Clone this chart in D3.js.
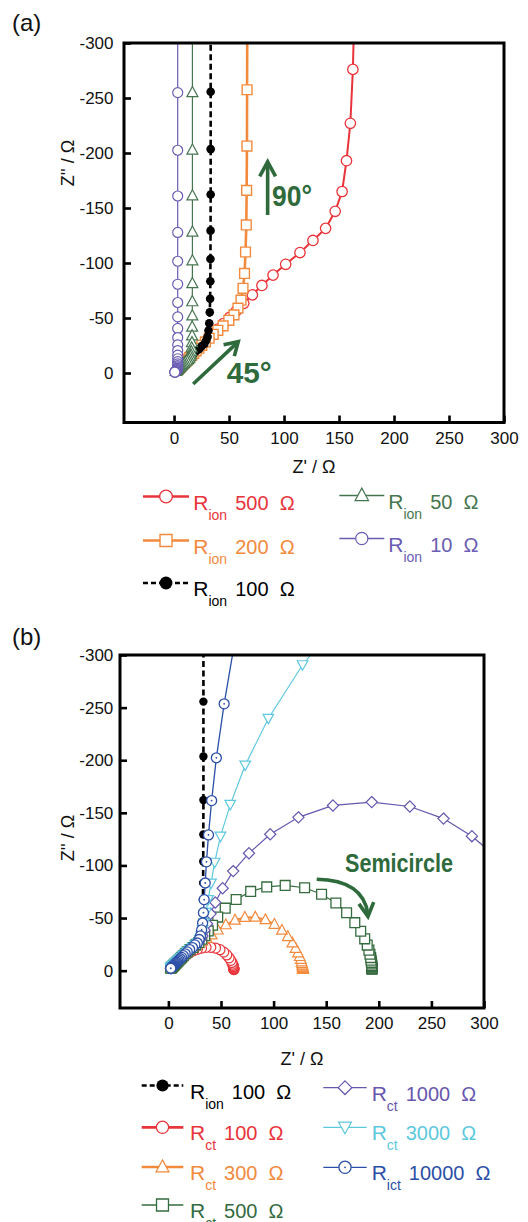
<!DOCTYPE html>
<html><head><meta charset="utf-8">
<script src="https://cdn.jsdelivr.net/npm/d3@7"></script>
<style>
body{margin:0;background:#fff}
svg{display:block}
text{font-family:"Liberation Sans",Arial,Helvetica,sans-serif}
</style>
</head><body>
<svg id="c" width="528" height="1222"></svg>
<script>
// ---------------- DATA (Z', Z'' in ohm) ----------------
const xTicks = [0, 50, 100, 150, 200, 250, 300];
const yTicks = [-300, -250, -200, -150, -100, -50, 0];

// Panel (a): transmission-line model, various R_ion (high frequency -> low frequency)
const aRion500 = [[5.0,-5.0],[5.7,-5.7],[6.3,-6.3],[7.1,-7.1],[8.0,-8.0],[8.9,-8.9],[10.1,-10.1],[11.3,-11.3],[12.6,-12.6],[14.2,-14.2],[16.0,-16.0],[17.9,-17.9],[20.1,-20.1],[22.5,-22.5],[25.2,-25.2],[28.3,-28.3],[31.8,-31.8],[35.7,-35.7],[40.0,-40.0],[45.0,-45.0],[50.5,-50.5],[56.6,-56.5],[63.4,-63.3],[71.2,-71.0],[79.9,-79.6],[90.0,-89.0],[101.5,-98.8],[114.5,-109.5],[126.3,-120.5],[137.8,-131.5],[146.5,-147.0],[152.8,-165.0],[156.8,-193.0],[160.3,-227.0],[162.6,-276.0],[164.1,-338.0]];
const aRion200 = [[3.2,-3.2],[3.6,-3.6],[4.0,-4.0],[4.5,-4.5],[5.05,-5.05],[5.7,-5.7],[6.4,-6.4],[7.1,-7.1],[8.0,-8.0],[9.0,-9.0],[10.1,-10.1],[11.3,-11.3],[12.7,-12.7],[14.2,-14.2],[16.0,-16.0],[17.9,-17.9],[20.1,-20.1],[22.6,-22.5],[25.3,-25.2],[28.5,-28.3],[31.9,-31.6],[35.6,-35.2],[39.8,-38.8],[44.6,-42.8],[49.8,-47.9],[54.5,-52.8],[58.1,-59.0],[60.9,-66.2],[62.7,-77.0],[64.1,-90.5],[65.0,-110.0],[65.7,-134.6],[66.0,-166.0],[66.3,-206.3],[66.4,-257.5],[66.6,-323.0]];
const aRion100 = [[2.3,-2.3],[2.5,-2.5],[2.8,-2.8],[3.2,-3.2],[3.6,-3.6],[4.0,-4.0],[4.5,-4.5],[5.05,-5.05],[5.7,-5.7],[6.4,-6.4],[7.1,-7.1],[8.0,-8.0],[9.0,-9.0],[10.1,-10.1],[11.3,-11.3],[12.6,-12.6],[14.2,-14.2],[16.0,-16.0],[17.9,-17.8],[20.2,-20.0],[22.9,-21.9],[25.2,-24.5],[27.5,-26.3],[29.2,-29.6],[30.5,-33.0],[31.3,-38.7],[32.0,-45.2],[32.5,-55.2],[32.8,-67.5],[33.0,-83.4],[33.1,-103.7],[33.2,-129.4],[33.3,-162.2],[33.3,-203.5],[33.3,-255.7],[33.3,-321.5]];
const aRion50 = [[1.6,-1.6],[1.8,-1.8],[2.0,-2.0],[2.25,-2.25],[2.5,-2.5],[2.8,-2.8],[3.2,-3.2],[3.6,-3.6],[4.0,-4.0],[4.5,-4.5],[5.05,-5.05],[5.7,-5.7],[6.3,-6.3],[7.1,-7.1],[8.0,-8.0],[9.0,-8.9],[10.1,-10.0],[11.5,-11.0],[12.6,-12.2],[13.8,-13.2],[14.6,-14.9],[15.3,-16.6],[15.7,-19.4],[16.0,-22.9],[16.3,-27.6],[16.4,-33.8],[16.5,-41.8],[16.6,-52.0],[16.6,-64.9],[16.65,-81.3],[16.7,-102.0],[16.7,-128.1],[16.7,-161.1],[16.7,-202.7],[16.7,-255.0],[16.7,-321.0]];
const aRion10 = [[0.71,-0.71],[0.8,-0.8],[0.9,-0.9],[1.0,-1.0],[1.13,-1.13],[1.26,-1.26],[1.42,-1.42],[1.6,-1.6],[1.8,-1.78],[2.06,-2.0],[2.29,-2.19],[2.52,-2.45],[2.75,-2.63],[2.92,-2.96],[3.05,-3.3],[3.13,-3.92],[3.2,-4.52],[3.25,-5.54],[3.28,-6.75],[3.3,-8.37],[3.31,-10.4],[3.32,-12.97],[3.33,-16.2],[3.33,-20.4],[3.33,-25.6],[3.33,-32.2],[3.33,-40.5],[3.33,-51.0],[3.33,-64.1],[3.33,-80.7],[3.33,-101.6],[3.33,-127.8],[3.33,-160.9],[3.33,-202.5],[3.33,-254.9],[3.33,-321.0]];

// Panel (b): R_ion 100 ohm with various R_ct
const bRion100 = [[2.3,-2.3],[2.5,-2.5],[2.8,-2.8],[3.2,-3.2],[3.6,-3.6],[4.0,-4.0],[4.5,-4.5],[5.05,-5.05],[5.7,-5.7],[6.4,-6.4],[7.1,-7.1],[8.0,-8.0],[9.0,-9.0],[10.1,-10.1],[11.3,-11.3],[12.6,-12.6],[14.2,-14.2],[16.0,-16.0],[17.9,-17.8],[20.2,-20.0],[22.9,-21.9],[25.2,-24.5],[27.5,-26.3],[29.2,-29.6],[30.5,-33.0],[31.3,-38.7],[32.0,-45.2],[32.5,-55.2],[32.8,-67.5],[33.0,-83.4],[33.1,-103.7],[33.2,-129.4],[33.3,-162.2],[33.3,-203.5],[33.3,-255.7],[33.3,-321.5]];
const bRct100 = [[2.3,-2.3],[2.5,-2.5],[2.8,-2.8],[3.2,-3.2],[3.6,-3.6],[4.0,-4.0],[4.5,-4.5],[5.05,-5.0],[5.7,-5.6],[6.4,-6.3],[7.1,-7.0],[8.0,-7.8],[9.0,-8.7],[10.1,-9.7],[11.4,-10.8],[12.8,-12.0],[14.4,-13.3],[16.3,-14.7],[18.5,-16.1],[21.1,-17.6],[24.1,-19.0],[27.6,-20.3],[31.5,-21.4],[35.8,-22.1],[40.3,-22.2],[44.8,-21.5],[49.0,-19.9],[52.6,-17.6],[55.5,-14.9],[57.7,-12.2],[59.3,-9.8],[60.4,-7.8],[61.1,-6.2],[61.5,-4.9],[61.8,-3.9],[62.0,-3.1],[62.1,-2.5],[62.2,-2.0],[62.2,-1.6],[62.2,-1.3],[62.3,-1.0]];
const bRct300 = [[2.3,-2.3],[2.5,-2.5],[2.8,-2.8],[3.2,-3.2],[3.6,-3.6],[4.0,-4.0],[4.5,-4.5],[5.05,-5.05],[5.7,-5.7],[6.4,-6.4],[7.1,-7.1],[8.0,-8.0],[9.0,-9.0],[10.1,-10.1],[11.3,-11.3],[12.6,-12.6],[14.2,-14.2],[16.0,-16.0],[18.0,-17.8],[20.3,-19.8],[23.0,-21.6],[25.8,-23.6],[28.9,-25.6],[32.3,-27.9],[36.4,-30.6],[41.2,-34.0],[47.0,-38.6],[54.6,-43.6],[63.3,-48.0],[72.7,-50.6],[82.6,-50.8],[92.2,-48.4],[100.8,-44.0],[107.9,-38.4],[113.5,-32.4],[117.8,-26.4],[120.9,-21.2],[123.2,-16.9],[124.8,-13.4],[125.9,-10.6],[126.6,-8.4],[127.1,-6.7],[127.4,-5.3],[127.6,-4.2],[127.7,-3.4],[127.8,-2.7],[127.9,-2.1],[127.9,-1.7],[128.0,-1.3],[128.0,-1.1]];
const bRct500 = [[2.3,-2.3],[2.5,-2.5],[2.8,-2.8],[3.2,-3.2],[3.6,-3.6],[4.0,-4.0],[4.5,-4.5],[5.05,-5.05],[5.7,-5.7],[6.4,-6.4],[7.1,-7.1],[8.0,-8.0],[9.0,-9.0],[10.1,-10.1],[11.3,-11.3],[12.6,-12.6],[14.2,-14.2],[16.0,-16.0],[17.9,-17.8],[20.5,-20.0],[23.4,-22.0],[26.1,-24.5],[29.0,-26.8],[31.8,-29.8],[34.6,-33.2],[37.9,-37.8],[42.0,-43.2],[46.9,-50.9],[54.0,-59.4],[64.4,-67.6],[78.2,-75.3],[93.5,-79.6],[111.0,-81.0],[129.5,-78.8],[145.6,-72.6],[159.2,-64.3],[169.4,-55.0],[177.2,-45.6],[182.8,-37.4],[186.6,-30.2],[189.0,-24.3],[190.6,-19.5],[191.6,-15.6],[192.3,-12.4],[192.7,-9.9],[193.0,-7.9],[193.2,-6.3],[193.3,-5.0],[193.4,-4.0],[193.4,-3.2],[193.5,-2.5],[193.5,-2.0],[193.5,-1.6],[193.5,-1.3]];
const bRct1000 = [[2.3,-2.3],[2.5,-2.5],[2.8,-2.8],[3.2,-3.2],[3.6,-3.6],[4.0,-4.0],[4.5,-4.5],[5.05,-5.05],[5.7,-5.7],[6.4,-6.4],[7.1,-7.1],[8.0,-8.0],[9.0,-9.0],[10.1,-10.1],[11.3,-11.3],[12.6,-12.6],[14.2,-14.2],[16.0,-16.0],[17.9,-17.8],[20.4,-20.0],[23.2,-21.9],[25.7,-24.4],[28.3,-26.3],[30.4,-29.5],[32.4,-32.9],[34.4,-38.5],[36.8,-44.6],[40.1,-54.0],[44.6,-64.8],[51.6,-78.3],[61.6,-94.6],[76.6,-111.6],[96.8,-129.6],[123.6,-145.7],[156.4,-157.0],[193.3,-160.2],[229.5,-156.0],[261.5,-144.5],[288.5,-127.8],[312.0,-108.0]];
const bRct3000 = [[2.3,-2.3],[2.5,-2.5],[2.8,-2.8],[3.2,-3.2],[3.6,-3.6],[4.0,-4.0],[4.5,-4.5],[5.05,-5.05],[5.7,-5.7],[6.4,-6.4],[7.1,-7.1],[8.0,-8.0],[9.0,-9.0],[10.1,-10.1],[11.3,-11.3],[12.6,-12.6],[14.2,-14.2],[16.0,-16.0],[17.9,-17.8],[20.2,-20.0],[23.0,-21.9],[25.4,-24.5],[27.8,-26.3],[29.7,-29.6],[31.3,-33.0],[32.6,-38.7],[34.0,-45.2],[35.7,-55.1],[37.7,-67.3],[40.5,-83.0],[44.0,-102.8],[49.5,-127.6],[58.8,-157.8],[73.0,-195.2],[95.0,-239.6],[127.5,-290.5],[173.6,-347.3]];
const bRct10000 = [[2.3,-2.3],[2.5,-2.5],[2.8,-2.8],[3.2,-3.2],[3.6,-3.6],[4.0,-4.0],[4.5,-4.5],[5.05,-5.05],[5.7,-5.7],[6.4,-6.4],[7.1,-7.1],[8.0,-8.0],[9.0,-9.0],[10.1,-10.1],[11.3,-11.3],[12.6,-12.6],[14.2,-14.2],[16.0,-16.0],[17.9,-17.8],[20.2,-20.0],[22.9,-21.9],[25.2,-24.5],[27.5,-26.3],[29.2,-29.6],[30.5,-33.0],[31.6,-38.7],[32.5,-45.2],[33.3,-55.1],[34.0,-67.5],[35.0,-83.3],[36.2,-103.4],[38.1,-129.0],[41.1,-161.6],[45.6,-202.3],[53.0,-253.6],[64.0,-318.0]];

// legend texts
const legendSubA = ["ion", "ion", "ion", "ion", "ion"];
const legendValA = ["500", "200", "100", "50", "10"];
const legendSubB = ["ion", "ct", "ct", "ct", "ct", "ct", "ict"];
const legendValB = ["100", "100", "300", "500", "1000", "3000", "10000"];

// ---------------- STYLE / LAYOUT ----------------
const C = {
  red: '#e8343a', orange: '#f28a3d', black: '#000000', greenA: '#467650',
  purpleA: '#6a5cb2', purpleB: '#6756ae', cyan: '#5ec8dd', blue: '#2b4fa7',
  greenB: '#356b3f', annot: '#2e6a3b'
};
const svg = d3.select('#c');
const FONT = '"Liberation Sans", Arial, Helvetica, sans-serif';

function symPath(shape, s) {
  switch (shape) {
    case 'square': return `M${-s},${-s}H${s}V${s}H${-s}Z`;
    case 'tri': return `M0,${-s * 1.1}L${s},${s * 0.75}L${-s},${s * 0.75}Z`;
    case 'tridown': return `M0,${s * 1.0}L${s},${-s * 0.8}L${-s},${-s * 0.8}Z`;
    case 'diamond': return `M0,${-s}L${s},0L0,${s}L${-s},0Z`;
  }
  return '';
}
function drawMarker(g, st, scale) {
  const s = st.s * (scale || 1);
  if (st.shape === 'dot') {
    g.append('circle').attr('r', s).attr('fill', st.color);
  } else if (st.shape === 'circle' || st.shape === 'circledot') {
    g.append('circle').attr('r', s).attr('fill', '#fff').attr('stroke', st.color).attr('stroke-width', st.sw);
    if (st.shape === 'circledot') g.append('circle').attr('r', 0.9).attr('fill', st.color);
  } else {
    g.append('path').attr('d', symPath(st.shape, s)).attr('fill', '#fff')
      .attr('stroke', st.color).attr('stroke-width', st.sw).attr('stroke-linejoin', 'miter');
  }
}

const seriesA = [
  { data: aRion500, color: C.red, lw: 2, shape: 'circle', s: 5.2, sw: 1.3, legLw: 2.7 },
  { data: aRion200, color: C.orange, lw: 2.6, shape: 'square', s: 4.9, sw: 1.4, legLw: 2.7 },
  { data: aRion100, color: C.black, lw: 2.6, dash: '6,3.5', shape: 'dot', s: 4.3, legLw: 2.7, legScale: 1.5 },
  { data: aRion50, color: C.greenA, lw: 1.2, shape: 'tri', s: 5.5, sw: 1.2, legLw: 1.3 },
  { data: aRion10, color: C.purpleA, lw: 1.2, shape: 'circle', s: 5, sw: 1.2, legLw: 1.3 }
];
const seriesB = [
  { data: bRion100, color: C.black, lw: 2.6, dash: '6,3.5', shape: 'dot', s: 4.2, legLw: 2.7, legScale: 1.45 },
  { data: bRct100, color: C.red, lw: 2, shape: 'circle', s: 5, sw: 1.2, legLw: 2.7 },
  { data: bRct300, color: C.orange, lw: 2, shape: 'tri', s: 5.3, sw: 1.2, legLw: 2.7 },
  { data: bRct500, color: C.greenB, lw: 1.2, shape: 'square', s: 4.9, sw: 1.3, legLw: 1.3 },
  { data: bRct1000, color: C.purpleB, lw: 1.2, shape: 'diamond', s: 5.6, sw: 1.2, legLw: 1.3 },
  { data: bRct3000, color: C.cyan, lw: 1.2, shape: 'tridown', s: 5.3, sw: 1.2, legLw: 1.3 },
  { data: bRct10000, color: C.blue, lw: 1.3, shape: 'circledot', s: 5, sw: 1.3, legLw: 1.3 }
];

function drawPanel(id, cfg, series) {
  const x = d3.scaleLinear().domain(cfg.xDom).range([cfg.x0, cfg.x1]);
  const y = d3.scaleLinear().domain(cfg.yDom).range([cfg.y0, cfg.y1]);
  svg.append('clipPath').attr('id', id).append('rect')
    .attr('x', cfg.x0).attr('y', cfg.y0).attr('width', cfg.x1 - cfg.x0).attr('height', cfg.y1 - cfg.y0);
  const g = svg.append('g').attr('clip-path', `url(#${id})`);
  const line = d3.line().x(d => x(d[0])).y(d => y(d[1]));
  series.forEach(st => {
    const sg = g.append('g');
    sg.append('path').attr('d', line(st.data)).attr('fill', 'none').attr('stroke', st.color)
      .attr('stroke-width', st.lw).attr('stroke-dasharray', st.dash || null);
    sg.selectAll('g.m').data(st.data.slice().reverse()).join('g').attr('class', 'm')
      .attr('transform', d => `translate(${x(d[0])},${y(d[1])})`)
      .each(function () { drawMarker(d3.select(this), st); });
  });
  // axes (ticks inward)
  const ax = svg.append('g').attr('transform', `translate(0,${cfg.y1})`)
    .call(d3.axisBottom(x).tickValues(xTicks).tickSize(-7).tickPadding(cfg.xPad).tickFormat(d => String(d)));
  const ay = svg.append('g').attr('transform', `translate(${cfg.x0},0)`)
    .call(d3.axisLeft(y).tickValues(yTicks).tickSize(-7).tickPadding(cfg.yPad).tickFormat(d => String(d)));
  [ax, ay].forEach(a => {
    a.select('.domain').remove();
    a.selectAll('line').attr('stroke', '#000').attr('stroke-width', 2.6);
    a.selectAll('text').attr('font-size', 17).attr('font-family', FONT).attr('fill', '#111');
  });
  svg.append('rect').attr('x', cfg.x0).attr('y', cfg.y0).attr('width', cfg.x1 - cfg.x0)
    .attr('height', cfg.y1 - cfg.y0).attr('fill', 'none').attr('stroke', '#000').attr('stroke-width', 3);
  // axis titles
  svg.append('text').attr('x', (cfg.x0 + cfg.x1) / 2).attr('y', cfg.xTitleY).attr('text-anchor', 'middle')
    .attr('font-size', 18).attr('fill', '#111').text("Z' / \u03A9");
  svg.append('text').attr('transform', `translate(${cfg.yTitleX},${cfg.yTitleY}) rotate(-90)`)
    .attr('text-anchor', 'middle').attr('font-size', 18).attr('fill', '#111').text("Z'' / \u03A9");
  return { x, y };
}

function chevron(px, py, ang, L, th, color) {
  const p1 = [px - L * Math.cos(ang - th), py - L * Math.sin(ang - th)];
  const p2 = [px - L * Math.cos(ang + th), py - L * Math.sin(ang + th)];
  svg.append('path').attr('d', `M${p1[0]},${p1[1]}L${px},${py}L${p2[0]},${p2[1]}`)
    .attr('fill', 'none').attr('stroke', color).attr('stroke-width', 3.6).attr('stroke-linejoin', 'miter');
}

// ---------------- PANEL (a) ----------------
const pa = drawPanel('clipA', { x0: 124, x1: 504, y0: 43, y1: 422.5, xDom: [-45.5, 300], yDom: [-300, 45],
  xPad: 9, yPad: 10.5, xTitleY: 473, yTitleX: 74, yTitleY: 163 }, seriesA);

svg.append('text').attr('x', 12).attr('y', 31).attr('font-size', 24).attr('fill', '#111').text('(a)');

// 90° arrow + text
{
  const x0 = pa.x(85.1), yb = pa.y(-143.6), yt = pa.y(-192);
  svg.append('line').attr('x1', x0).attr('x2', x0).attr('y1', yb).attr('y2', yt + 2)
    .attr('stroke', C.annot).attr('stroke-width', 3.6);
  chevron(x0, yt, -Math.PI / 2, 16.5, 0.5, C.annot);
  svg.append('text').attr('x', pa.x(89.1)).attr('y', pa.y(-151.8)).attr('font-size', 29)
    .attr('font-weight', 'bold').attr('fill', C.annot).attr('textLength', 40)
    .attr('lengthAdjust', 'spacingAndGlyphs').text('90\u00B0');
  // 45° arrow
  const sx = pa.x(17.4), sy = pa.y(10), tx = pa.x(58.4), ty = pa.y(-28.5);
  svg.append('line').attr('x1', sx).attr('y1', sy).attr('x2', tx - 1.5).attr('y2', ty + 1.5)
    .attr('stroke', C.annot).attr('stroke-width', 3.6);
  chevron(tx, ty, Math.atan2(ty - sy, tx - sx), 15, 0.55, C.annot);
  svg.append('text').attr('x', pa.x(47.9)).attr('y', pa.y(8.8)).attr('font-size', 29)
    .attr('font-weight', 'bold').attr('fill', C.annot).attr('textLength', 45)
    .attr('lengthAdjust', 'spacingAndGlyphs').text('45\u00B0');
}

// legend
function legendItem(st, x0, len, ly, sub, val, textX) {
  svg.append('line').attr('x1', x0).attr('x2', x0 + len).attr('y1', ly).attr('y2', ly)
    .attr('stroke', st.color).attr('stroke-width', st.legLw).attr('stroke-dasharray', st.dash ? '5,3' : null);
  const mg = svg.append('g').attr('transform', `translate(${x0 + len / 2},${ly})`);
  drawMarker(mg, st, st.legScale || 1.22);
  const t = svg.append('text').attr('x', textX).attr('y', ly + 13).attr('fill', st.color);
  t.append('tspan').attr('font-size', 21).text('R');
  t.append('tspan').attr('font-size', 14).attr('dy', 10).text(sub);
  t.append('tspan').attr('font-size', 20).attr('dy', -10).attr('dx', 8).text(val + '\u00A0\u00A0\u03A9');
}
const legPosA = [
  { x0: 143, len: 46, y: 496.5, tx: 193.3 },
  { x0: 143, len: 46, y: 540.5, tx: 193.3 },
  { x0: 143, len: 46, y: 583, tx: 193.3 },
  { x0: 339.3, len: 45, y: 495.5, tx: 388.3 },
  { x0: 339.3, len: 45, y: 538.5, tx: 388.3 }
];
seriesA.forEach((st, i) => {
  const p = legPosA[i];
  legendItem(st, p.x0, p.len, p.y, legendSubA[i], legendValA[i], p.tx);
});

// ---------------- PANEL (b) ----------------
const pb = drawPanel('clipB', { x0: 120, x1: 484, y0: 655, y1: 1008, xDom: [-46, 300], yDom: [-300, 35.5],
  xPad: 9, yPad: 6.7, xTitleY: 1065, yTitleX: 74, yTitleY: 838 }, seriesB);

svg.append('text').attr('x', 12).attr('y', 645).attr('font-size', 24).attr('fill', '#111').text('(b)');

{
  svg.append('text').attr('x', pb.x(167.9)).attr('y', pb.y(-94)).attr('font-size', 26)
    .attr('font-weight', 'bold').attr('fill', C.annot).attr('textLength', 108)
    .attr('lengthAdjust', 'spacingAndGlyphs').text('Semicircle');
  const s = [pb.x(141), pb.y(-86.8)], c = [pb.x(185.5), pb.y(-86)], t = [pb.x(189.7), pb.y(-51.5)];
  svg.append('path').attr('d', `M${s[0]},${s[1]}Q${c[0]},${c[1]} ${t[0]},${t[1] - 2}`)
    .attr('fill', 'none').attr('stroke', C.annot).attr('stroke-width', 3.6);
  chevron(t[0], t[1], Math.atan2(t[1] - c[1], t[0] - c[0]), 15.5, 0.5, C.annot);
}

const legPosB = [
  { x0: 141.7, len: 41.6, y: 1085.5, tx: 190 },
  { x0: 141.7, len: 41.6, y: 1127.3, tx: 190 },
  { x0: 141.7, len: 41.6, y: 1167, tx: 190 },
  { x0: 141.7, len: 41.6, y: 1205, tx: 190 },
  { x0: 323.3, len: 43.4, y: 1087.7, tx: 371.7 },
  { x0: 323.3, len: 43.4, y: 1127.3, tx: 371.7 },
  { x0: 323.3, len: 43.4, y: 1167.3, tx: 371.7 }
];
seriesB.forEach((st, i) => {
  const p = legPosB[i];
  legendItem(st, p.x0, p.len, p.y, legendSubB[i], legendValB[i], p.tx);
});
</script>
</body></html>
